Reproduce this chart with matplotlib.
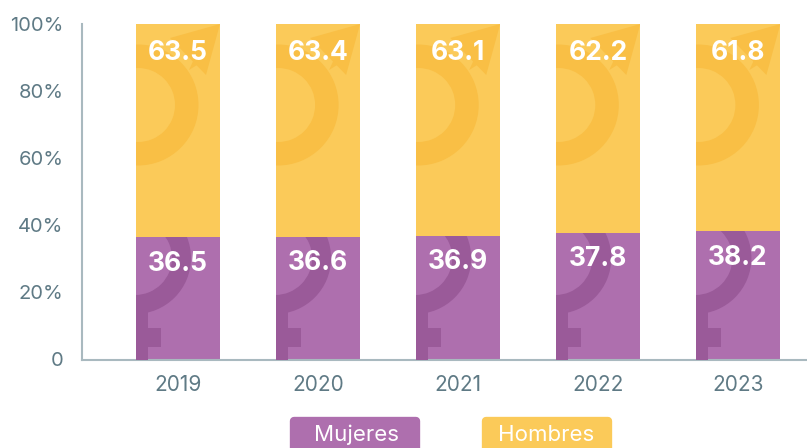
import matplotlib
matplotlib.use("Agg")
import matplotlib.pyplot as plt
from matplotlib.patches import Polygon, Rectangle, FancyBboxPatch, Wedge
from matplotlib.transforms import Affine2D

years = ["2019", "2020", "2021", "2022", "2023"]
mujeres = [36.5, 36.6, 36.9, 37.8, 38.2]
hombres = [63.5, 63.4, 63.1, 62.2, 61.8]
y_ticks = [0, 20, 40, 60, 80, 100]
y_labels = ["0", "20%", "40%", "60%", "80%", "100%"]

PURPLE = "#AE6FAE"; PURPLE_D = "#9A5A99"
YELLOW = "#FBCA59"; YELLOW_D = "#F9BF45"
TXT = "#5F7A85"; AXC = "#A9B9BF"

W, H = 807, 448
plt.rcParams['font.family'] = ['Inter', 'DejaVu Sans']
fig = plt.figure(figsize=(W/100, H/100), dpi=100)
ax = fig.add_axes([82/W, 1-359.5/H, (W-82)/W, (359.5-24)/H])
ax.set_xlim((82-178)/140, (807-178)/140)
ax.set_ylim(0, 100)
xs = list(range(len(years)))
bar_w = 84.5/140

b1 = ax.bar(xs, mujeres, bar_w, color=PURPLE, zorder=2)
b2 = ax.bar(xs, hombres, bar_w, bottom=mujeres, color=YELLOW, zorder=2)

base = Affine2D().scale(1, -1).translate(0, H)
for i, (bm, bh) in enumerate(zip(b1, b2)):
    t = Affine2D().translate(140.1 * i, 0) + base
    # decorative male symbol, clipped to the bar
    for p in [Wedge((138, 105), 60.5, 0, 360, width=23.5, transform=t),
              Polygon([(220, 24), (170, 38), (206, 75)], transform=t),
              Polygon([(189, 70), (197, 65), (208, 54), (200, 46)], transform=t)]:
        p.set(facecolor=YELLOW_D, edgecolor="none", zorder=3)
        ax.add_patch(p)
        p.set_clip_path(bh)
    # decorative female symbol, clipped to the bar
    for p in [Wedge((135, 258), 56, 0, 360, width=19, transform=t),
              Rectangle((135, 300), 12.5, 60, transform=t),
              Rectangle((135, 328), 26, 19, transform=t)]:
        p.set(facecolor=PURPLE_D, edgecolor="none", zorder=3)
        ax.add_patch(p)
        p.set_clip_path(bm)
    ax.text(i, 91.5, f"{hombres[i]}", ha="center", va="center", color="white",
            fontsize=19, fontweight="bold", zorder=5)
    ax.text(i, mujeres[i] - 7.9, f"{mujeres[i]}", ha="center", va="center", color="white",
            fontsize=19, fontweight="bold", zorder=5)

ax.set_xticks(xs, years)
ax.set_yticks(y_ticks, y_labels)
ax.tick_params(length=0, labelcolor=TXT)
ax.tick_params(axis="x", pad=11, labelsize=15)
ax.tick_params(axis="y", pad=13.5, labelsize=14.5)
for s in ["top", "right"]:
    ax.spines[s].set_visible(False)
for s in ["left", "bottom"]:
    ax.spines[s].set_color(AXC)
    ax.spines[s].set_linewidth(1.5)

# legend boxes
for x0, c, lab, cx in [(290, PURPLE, "Mujeres", 356.5), (482, YELLOW, "Hombres", 546.5)]:
    fig.add_artist(FancyBboxPatch((x0+4, 421), 122, 40, boxstyle="round,pad=0,rounding_size=0",
                                  facecolor=c, edgecolor=c, linewidth=6,
                                  joinstyle="round", transform=base))
    fig.text(cx/W, 1-435/H, lab, color="white", fontsize=16, ha="center", va="center")

fig.savefig("out.png", dpi=100)
